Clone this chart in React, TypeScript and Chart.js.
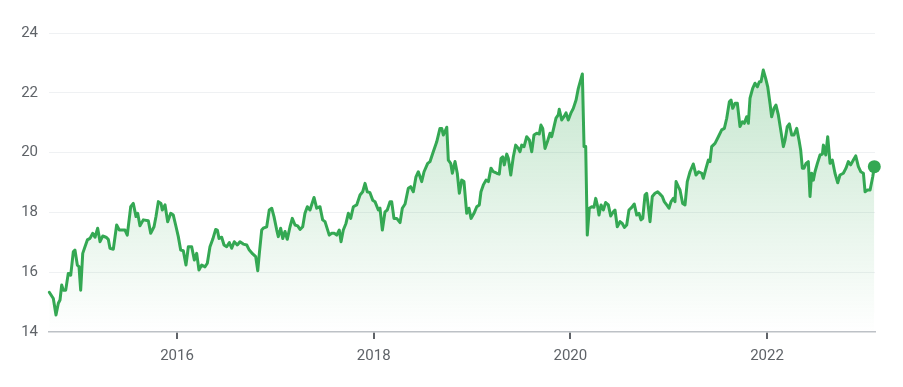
import React, { useEffect, useRef } from "react";
import { Chart, registerables } from "chart.js";

Chart.register(...registerables);

// Time in fractional years
const times: number[] = [
  2014.701, 2014.742, 2014.769, 2014.793, 2014.81, 2014.827, 2014.843, 2014.868, 2014.894, 2014.919,
  2014.945, 2014.962, 2014.986, 2015.003, 2015.02, 2015.041, 2015.064, 2015.088, 2015.115, 2015.142,
  2015.166, 2015.193, 2015.217, 2015.244, 2015.278, 2015.301, 2015.318, 2015.352, 2015.386, 2015.413,
  2015.437, 2015.471, 2015.494, 2015.529, 2015.555, 2015.583, 2015.6, 2015.623, 2015.657, 2015.708,
  2015.732, 2015.766, 2015.786, 2015.81, 2015.837, 2015.85, 2015.878, 2015.905, 2015.936, 2015.962,
  2015.99, 2016.013, 2016.037, 2016.064, 2016.091, 2016.115, 2016.149, 2016.176, 2016.2, 2016.223,
  2016.251, 2016.285, 2016.308, 2016.335, 2016.363, 2016.393, 2016.41, 2016.427, 2016.454, 2016.478,
  2016.505, 2016.532, 2016.556, 2016.582, 2016.613, 2016.64, 2016.674, 2016.709, 2016.735, 2016.77,
  2016.8, 2016.821, 2016.837, 2016.861, 2016.877, 2016.912, 2016.938, 2016.963, 2016.986, 2017.014,
  2017.03, 2017.054, 2017.075, 2017.098, 2017.121, 2017.149, 2017.172, 2017.2, 2017.227, 2017.251,
  2017.278, 2017.301, 2017.325, 2017.352, 2017.393, 2017.42, 2017.454, 2017.481, 2017.505, 2017.548,
  2017.573, 2017.599, 2017.624, 2017.65, 2017.668, 2017.691, 2017.718, 2017.742, 2017.766, 2017.793,
  2017.827, 2017.861, 2017.888, 2017.912, 2017.935, 2017.962, 2017.99, 2018.013, 2018.047, 2018.064,
  2018.088, 2018.115, 2018.138, 2018.166, 2018.183, 2018.206, 2018.234, 2018.268, 2018.291, 2018.319,
  2018.352, 2018.376, 2018.403, 2018.43, 2018.454, 2018.488, 2018.512, 2018.549, 2018.573, 2018.606,
  2018.641, 2018.674, 2018.692, 2018.708, 2018.725, 2018.743, 2018.759, 2018.783, 2018.8, 2018.827,
  2018.85, 2018.871, 2018.895, 2018.918, 2018.946, 2018.969, 2018.99, 2019.02, 2019.048, 2019.074,
  2019.091, 2019.115, 2019.142, 2019.166, 2019.193, 2019.216, 2019.251, 2019.277, 2019.295, 2019.312,
  2019.328, 2019.353, 2019.369, 2019.394, 2019.42, 2019.444, 2019.471, 2019.488, 2019.505, 2019.529,
  2019.556, 2019.583, 2019.607, 2019.63, 2019.658, 2019.684, 2019.701, 2019.719, 2019.742, 2019.766,
  2019.793, 2019.81, 2019.834, 2019.854, 2019.877, 2019.887, 2019.912, 2019.935, 2019.956, 2019.979,
  2020.004, 2020.03, 2020.058, 2020.081, 2020.105, 2020.122, 2020.139, 2020.156, 2020.172, 2020.193,
  2020.217, 2020.24, 2020.258, 2020.278, 2020.291, 2020.312, 2020.335, 2020.359, 2020.386, 2020.41,
  2020.437, 2020.454, 2020.477, 2020.505, 2020.528, 2020.549, 2020.573, 2020.596, 2020.624, 2020.65,
  2020.675, 2020.698, 2020.718, 2020.736, 2020.759, 2020.776, 2020.793, 2020.81, 2020.833, 2020.861,
  2020.888, 2020.912, 2020.935, 2020.955, 2020.98, 2021.003, 2021.024, 2021.047, 2021.064, 2021.075,
  2021.098, 2021.115, 2021.142, 2021.166, 2021.189, 2021.217, 2021.25, 2021.278, 2021.305, 2021.336,
  2021.352, 2021.38, 2021.403, 2021.42, 2021.437, 2021.471, 2021.505, 2021.539, 2021.566, 2021.59,
  2021.617, 2021.634, 2021.651, 2021.675, 2021.698, 2021.725, 2021.749, 2021.769, 2021.793, 2021.81,
  2021.827, 2021.854, 2021.878, 2021.901, 2021.922, 2021.939, 2021.962, 2021.986, 2022.007, 2022.03,
  2022.047, 2022.071, 2022.091, 2022.115, 2022.139, 2022.166, 2022.183, 2022.206, 2022.227, 2022.251,
  2022.274, 2022.302, 2022.325, 2022.342, 2022.359, 2022.376, 2022.397, 2022.42, 2022.437, 2022.454,
  2022.471, 2022.488, 2022.512, 2022.539, 2022.563, 2022.573, 2022.597, 2022.617, 2022.641, 2022.664,
  2022.691, 2022.719, 2022.742, 2022.776, 2022.803, 2022.827, 2022.851, 2022.878, 2022.902, 2022.929,
  2022.953, 2022.98, 2022.997, 2023.021, 2023.048, 2023.075, 2023.091,
];

const prices: number[] = [
  15.33, 15.12, 14.57, 14.96, 15.07, 15.57, 15.4, 15.4, 15.96, 15.9,
  16.68, 16.74, 16.24, 16.19, 15.4, 16.63, 16.85, 17.08, 17.13, 17.3,
  17.17, 17.47, 17.02, 17.21, 17.17, 17.1, 16.8, 16.77, 17.58, 17.41,
  17.41, 17.41, 17.24, 18.19, 18.3, 17.86, 17.97, 17.55, 17.75, 17.72,
  17.3, 17.52, 17.86, 18.36, 18.3, 18.08, 18.25, 17.69, 17.97, 17.91,
  17.52, 17.19, 16.74, 16.72, 16.24, 16.85, 16.85, 16.41, 16.63, 16.07,
  16.24, 16.18, 16.3, 16.85, 17.1, 17.43, 17.41, 17.13, 17.17, 16.91,
  16.85, 16.99, 16.8, 17.02, 16.91, 17.02, 16.94, 16.91, 16.74, 16.61,
  16.52, 16.05, 16.63, 17.41, 17.47, 17.52, 18.08, 18.14, 17.86, 17.41,
  17.19, 17.47, 17.13, 17.36, 17.1, 17.52, 17.8, 17.58, 17.55, 17.43,
  17.52, 17.97, 18.19, 18.08, 18.5, 18.14, 18.19, 17.75, 17.69, 17.24,
  17.3, 17.3, 17.24, 17.41, 17.02, 17.41, 17.63, 17.97, 17.8, 18.19,
  18.25, 18.58, 18.69, 18.97, 18.69, 18.66, 18.41, 18.36, 18.08, 18.14,
  17.41, 18.02, 18.08, 18.36, 18.36, 17.8, 17.8, 17.66, 18.14, 18.28,
  18.81, 18.86, 18.69, 19.19, 19.36, 19.03, 19.36, 19.64, 19.7, 20.03,
  20.36, 20.81, 20.81, 20.59, 20.7, 20.85, 19.75, 19.64, 19.31, 19.7,
  19.31, 18.64, 19.08, 19.03, 17.97, 18.14, 17.8, 17.97, 18.19, 18.25,
  18.69, 18.92, 19.08, 19.03, 19.48, 19.36, 19.31, 19.28, 19.81, 19.86,
  19.59, 19.95, 19.81, 19.25, 19.86, 20.25, 20.14, 20.03, 20.25, 20.2,
  20.53, 20.42, 20.03, 20.59, 20.65, 20.62, 20.92, 20.81, 20.14, 20.36,
  20.65, 20.53, 20.87, 21.15, 21.26, 21.45, 21.09, 21.2, 21.33, 21.09,
  21.31, 21.48, 21.76, 22.15, 22.43, 22.63, 20.2, 20.2, 17.24, 18.14,
  18.19, 18.17, 18.47, 18.19, 17.91, 18.25, 18.08, 18.33, 18.25, 17.88,
  18.02, 18.08, 17.52, 17.69, 17.63, 17.5, 17.58, 18.08, 18.17, 18.28,
  17.91, 17.97, 17.75, 17.8, 18.58, 18.64, 18.19, 17.69, 18.53, 18.64,
  18.69, 18.61, 18.53, 18.36, 18.25, 18.14, 18.36, 18.47, 18.36, 19.03,
  18.86, 18.75, 18.3, 18.25, 19.03, 19.36, 19.62, 19.25, 19.36, 19.31,
  19.14, 19.48, 19.75, 19.7, 20.2, 20.31, 20.53, 20.76, 20.81, 21.15,
  21.7, 21.76, 21.48, 21.65, 21.65, 20.87, 21.03, 20.98, 21.2, 20.98,
  21.82, 22.15, 22.32, 22.2, 22.37, 22.37, 22.76, 22.48, 22.2, 21.65,
  21.2, 21.48, 21.59, 21.26, 20.76, 20.2, 20.42, 20.87, 20.96, 20.59,
  20.59, 20.81, 20.42, 20.09, 19.48, 19.48, 19.64, 19.7, 18.53, 19.31,
  19.08, 19.36, 19.64, 19.92, 19.95, 20.25, 19.92, 20.53, 19.64, 19.75,
  19.31, 18.99, 19.25, 19.31, 19.48, 19.7, 19.59, 19.75, 19.89, 19.53,
  19.36, 19.31, 18.69, 18.75, 18.75, 19.19, 19.53,
];

const yearTicks: number[] = [2016, 2018, 2020, 2022];
const yMin = 14;
const yMax = 24;
const xMin = 2014.698;
const xMax = 2023.098;

const GREEN = "#34a853";

export default function App() {
  const ref = useRef<HTMLCanvasElement | null>(null);

  useEffect(() => {
    document.body.style.margin = "0";
    const canvas = ref.current;
    if (!canvas) return;
    const points = times.map((t, i) => ({ x: t, y: prices[i] }));
    const last = points.length - 1;
    const chart = new Chart(canvas, {
      type: "line",
      data: {
        datasets: [
          {
            data: points,
            borderColor: GREEN,
            borderWidth: 3,
            borderJoinStyle: "round",
            borderCapStyle: "round",
            tension: 0,
            fill: "start",
            backgroundColor: (ctx: any) => {
              const area = ctx.chart.chartArea;
              if (!area) return "rgba(52,168,83,0.15)";
              const g = ctx.chart.ctx.createLinearGradient(0, area.top, 0, area.bottom);
              g.addColorStop(0, "rgba(52,168,83,0.32)");
              g.addColorStop(1, "rgba(52,168,83,0.0)");
              return g;
            },
            pointRadius: (ctx: any) => (ctx.dataIndex === last ? 6.5 : 0),
            pointHoverRadius: 0,
            pointBackgroundColor: GREEN,
            pointBorderWidth: 0,
            clip: false as any,
          },
        ],
      },
      options: {
        animation: false,
        responsive: false,
        maintainAspectRatio: false,
        layout: { padding: { top: 33, right: 28, left: 0, bottom: 0 } },
        plugins: {
          legend: { display: false },
          tooltip: { enabled: false },
        },
        scales: {
          x: {
            type: "linear",
            min: xMin,
            max: xMax,
            afterBuildTicks: (scale: any) => {
              scale.ticks = yearTicks.map((v) => ({ value: v }));
            },
            afterFit: (scale: any) => {
              scale.height = 55;
            },
            grid: {
              drawOnChartArea: false,
              drawTicks: true,
              tickLength: 7,
              color: "#5f6368",
              lineWidth: 2,
            },
            border: { display: true, color: "#bdc1c6", width: 1.5 },
            ticks: {
              color: "#5f6368",
              font: { family: "Roboto", size: 15 },
              padding: 8,
              maxRotation: 0,
              callback: (v: any) => String(v),
            },
          },
          y: {
            type: "linear",
            min: yMin,
            max: yMax,
            afterFit: (scale: any) => {
              scale.width = 49;
            },
            grid: {
              color: (ctx: any) => (ctx.tick && ctx.tick.value === yMin ? "rgba(0,0,0,0)" : "#eff1f3"),
              lineWidth: 1,
              drawTicks: false,
            },
            border: { display: false },
            ticks: {
              stepSize: 2,
              color: "#5f6368",
              font: { family: "Roboto", size: 15 },
              padding: 11,
            },
          },
        },
      },
    });
    return () => chart.destroy();
  }, []);

  return (
    <div style={{ position: "relative", width: 903, height: 387, background: "#fff" }}>
      <canvas ref={ref} width={903} height={387} style={{ display: "block", width: 903, height: 387 }} />
    </div>
  );
}
